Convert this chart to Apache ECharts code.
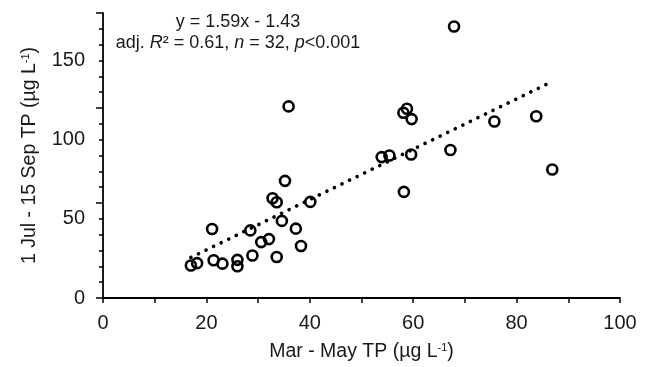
<!DOCTYPE html>
<html><head><meta charset="utf-8">
<script src="https://cdn.jsdelivr.net/npm/echarts@6/dist/echarts.min.js"></script>
<style>html,body{margin:0;padding:0;background:#fff}#c{width:649px;height:367px}</style>
</head><body><div id="c"></div>
<script>
// Mar - May TP (x) and 1 Jul - 15 Sep TP (y), µg/L
const marMayTP = [67.9, 35.9, 58.1, 58.8, 59.7, 75.7, 83.8, 67.2, 53.9, 55.4, 59.6, 86.9, 58.2, 35.2, 32.8, 33.6,
                  40.1, 34.6, 37.3, 21.1, 28.5, 32.1, 30.6, 38.3, 28.9, 33.6, 21.4, 23.1, 26.0, 26.0, 18.2, 17.0];
const julSepTP = [171.5, 121.0, 117.0, 119.5, 113.0, 111.5, 114.8, 93.5, 89.0, 90.0, 90.6, 81.2, 67.0, 74.0, 63.0, 60.5,
                  60.7, 48.7, 43.8, 43.6, 42.7, 37.2, 35.3, 32.8, 26.8, 25.9, 23.8, 21.7, 24.1, 20.1, 22.0, 20.5];
// Regression (from the annotation)
const fitSlope = 1.59;
const fitIntercept = -1.43;
const fitXRange = [17, 87];
// Axis tick labels
const xTickLabels = [0, 20, 40, 60, 80, 100];
const yTickLabels = [0, 50, 100, 150];
const annotationLines = ['y = 1.59x - 1.43', 'adj. {i|R}² = 0.61, {i|n} = 32, {i|p}<0.001'];

const FONT = '"Liberation Sans", Arial, sans-serif';
const TXT = '#1a1a1a';
const scatterData = marMayTP.map((x, i) => [x, julSepTP[i]]);
const fitData = fitXRange.map(x => [x, fitSlope * x + fitIntercept]);

const chart = echarts.init(document.getElementById('c'), null, {renderer: 'canvas'});
const axisLine = {show: true, lineStyle: {color: '#000', width: 1.8}};
chart.setOption({
  animation: false,
  backgroundColor: '#fff',
  grid: {left: 103, right: 29, top: 13, bottom: 69, containLabel: false},
  xAxis: {
    type: 'value', min: 0, max: 100, interval: 10,
    name: 'Mar - May TP (µg L{sup|-1})', nameLocation: 'middle', nameGap: 44,
    nameTextStyle: {fontFamily: FONT, fontSize: 19.5, color: TXT,
      rich: {sup: {fontFamily: FONT, fontSize: 11, color: TXT, verticalAlign: 'top'}}},
    axisLine: axisLine,
    axisTick: {show: true, length: 5, inside: false, lineStyle: {color: '#000', width: 1.5}},
    axisLabel: {fontFamily: FONT, fontSize: 20, color: TXT, margin: 15,
      formatter: v => xTickLabels.includes(v) ? String(v) : ''},
    splitLine: {show: false}
  },
  yAxis: [{
    type: 'value', min: 0, max: 180, interval: 10, position: 'left',
    name: '1 Jul - 15 Sep TP (µg L{sup|-1})', nameLocation: 'middle', nameGap: 63, nameRotate: 90,
    nameTextStyle: {fontFamily: FONT, fontSize: 19.5, color: TXT,
      rich: {sup: {fontFamily: FONT, fontSize: 11, color: TXT, verticalAlign: 'top'}}},
    axisLine: axisLine,
    axisTick: {show: true, length: 4, lineStyle: {color: '#000', width: 1.5}},
    axisLabel: {fontFamily: FONT, fontSize: 20, color: TXT, margin: 18,
      formatter: v => yTickLabels.includes(v) ? String(v) : ''},
    splitLine: {show: false}
  }, {
    type: 'value', min: 0, max: 150, interval: 50, position: 'left',
    axisLine: {show: false},
    axisTick: {show: true, length: 7, lineStyle: {color: '#000', width: 1.5}},
    axisLabel: {show: false},
    splitLine: {show: false}
  }],
  series: [{
    type: 'line', data: fitData, yAxisIndex: 0, symbol: 'none', z: 1,
    lineStyle: {color: '#000', width: 3.6, type: [0.1, 8.3], cap: 'round'}
  }, {
    type: 'scatter', data: scatterData, yAxisIndex: 0, symbol: 'circle', symbolSize: 10, z: 3,
    itemStyle: {color: 'rgba(0,0,0,0)', borderColor: '#000', borderWidth: 2.6, opacity: 1}
  }],
  graphic: [{
    type: 'text', x: 238, y: 22,
    style: {text: annotationLines[0], fontFamily: FONT, fontSize: 18, fill: TXT,
      textAlign: 'center', textVerticalAlign: 'middle'}
  }, {
    type: 'text', x: 238, y: 43,
    style: {text: annotationLines[1], fontFamily: FONT, fontSize: 18, fill: TXT,
      textAlign: 'center', textVerticalAlign: 'middle',
      rich: {i: {fontFamily: FONT, fontSize: 18, fontStyle: 'italic', fill: TXT}}}
  }]
});
</script>
</body></html>
